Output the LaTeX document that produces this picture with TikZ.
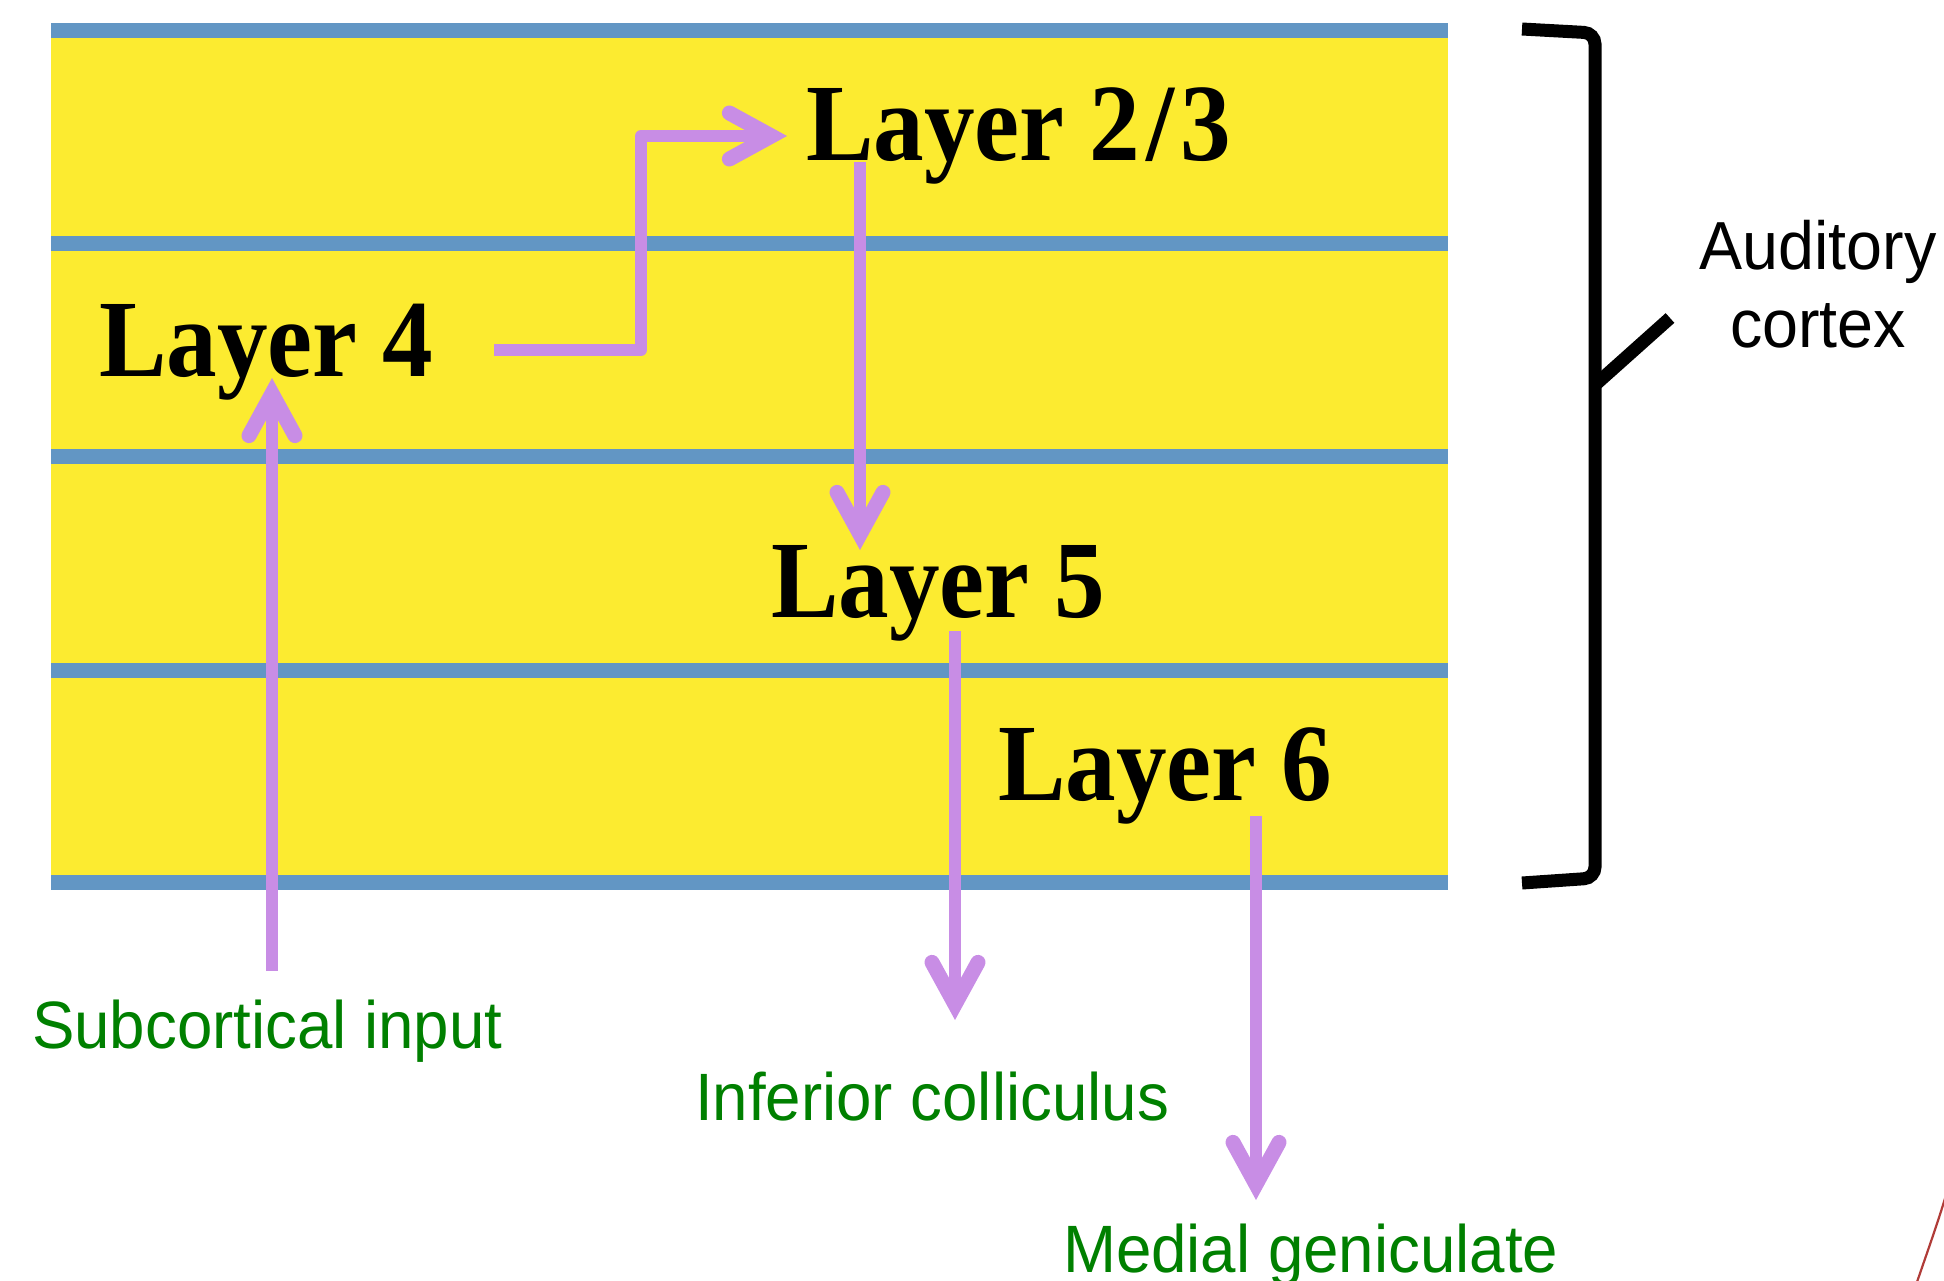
\documentclass[tikz,border=0pt]{standalone}
\usepackage{fontspec}
\usetikzlibrary{arrows.meta}

\newfontfamily\layerfont[FakeStretch=0.92]{Liberation Serif}
\newfontfamily\labelfont[FakeStretch=0.95]{Liberation Sans}

\definecolor{cortexyellow}{RGB}{252,235,48}
\definecolor{laminablue}{RGB}{98,150,196}
\definecolor{projpurple}{RGB}{200,141,229}
\definecolor{targetgreen}{RGB}{0,128,0}
\definecolor{arcred}{RGB}{176,60,56}

\tikzset{
  layerlabel/.style={anchor=base west, inner sep=0pt, outer sep=0pt,
    font=\layerfont\bfseries\fontsize{110}{120}\selectfont},
  targetlabel/.style={anchor=base west, inner sep=0pt, outer sep=0pt,
    text=targetgreen, font=\labelfont\fontsize{67}{80}\selectfont},
  regionlabel/.style={anchor=base, inner sep=0pt, outer sep=0pt,
    font=\labelfont\fontsize{68}{80}\selectfont},
  lamina/.style={draw=laminablue, line width=15pt},
  projection/.style={draw=projpurple, line width=12pt, line join=round,
    -{Straight Barb[length=42pt,width=46pt,line width=15pt,line cap=round,line join=miter]}},
  bracket/.style={draw=black, line width=13pt}
}

\begin{document}
\begin{tikzpicture}[x=1pt,y=-1pt]
  \useasboundingbox (0,0) rectangle (1944,1280);

  % cortical sheet with laminar boundaries
  \fill[cortexyellow] (51,30) rectangle (1448,883);
  \foreach \yy in {30.5,243,456.5,670,882.5}
    \draw[lamina] (51,\yy) -- (1448,\yy);

  % layer names
  \node[layerlabel] (l23) at (806,160) {Layer 2\kern6pt/\kern6pt3};
  \node[layerlabel] (l4)  at (99,376)  {Layer 4};
  \node[layerlabel] (l5)  at (771,617) {Layer 5};
  \node[layerlabel] (l6)  at (998,800) {Layer 6};

  % input and output structures
  \node[targetlabel] (sub) at (32,1048)   {Subcortical input};
  \node[targetlabel] (ic)  at (695,1120)  {Inferior colliculus};
  \node[targetlabel] (mg)  at (1063,1272) {Medial geniculate};

  % connector end points
  \coordinate (subtop)  at (272,971);
  \coordinate (l4in)    at (272,378);
  \coordinate (l4out)   at (494,350);
  \coordinate (l23in)   at (787,136);
  \coordinate (l23out)  at (860,162);
  \coordinate (l5in)    at (860,550);
  \coordinate (l5out)   at (955,631);
  \coordinate (icin)    at (955,1020);
  \coordinate (l6out)   at (1256,816);
  \coordinate (mgin)    at (1256,1200);

  % intracortical and extracortical projections
  \draw[projection] (subtop) -- (l4in);
  \draw[projection] (l4out) -- (641,350) -- (641,136) -- (l23in);
  \draw[projection] (l23out) -- (l5in);
  \draw[projection] (l5out) -- (icin);
  \draw[projection] (l6out) -- (mgin);

  % bracket marking the auditory cortex
  \coordinate (brtop) at (1522,29);
  \coordinate (brbot) at (1522,883);
  \coordinate (brtick) at (1670,318);
  \draw[bracket, rounded corners=11pt] (brtop) -- (1595,33) -- (1595,878) -- (brbot);
  \draw[bracket] (1595,385) -- (brtick);
  \node[regionlabel] (aud) at (1818,269) {Auditory};
  \node[regionlabel] (ctx) at (1818,347) {cortex};

  % edge of a neighbouring outline
  \draw[arcred, line width=2.2pt] (1917,1282) .. controls (1929,1247) and (1938,1222) .. (1946,1195);
\end{tikzpicture}
\end{document}
